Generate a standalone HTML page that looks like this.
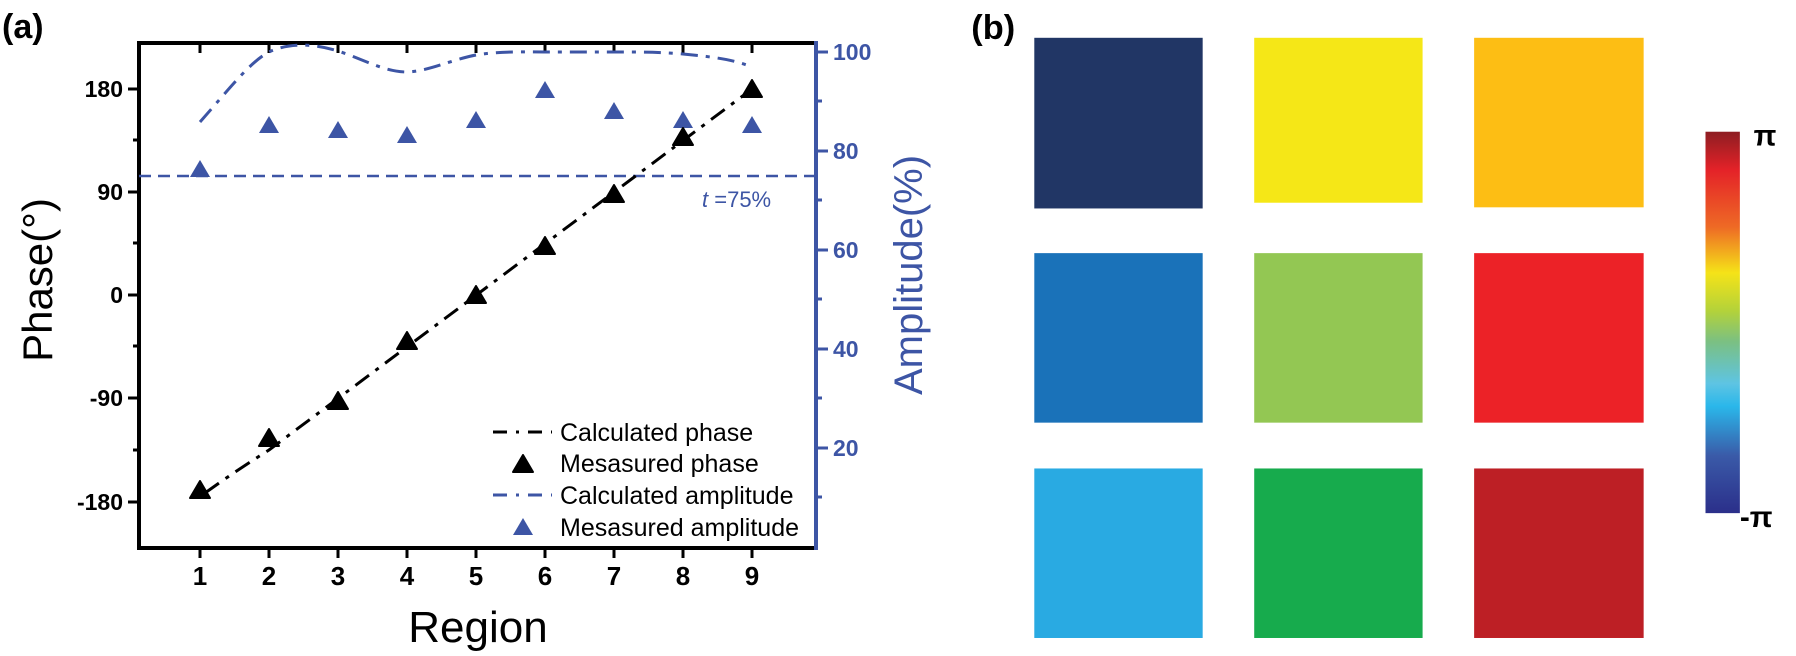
<!DOCTYPE html>
<html><head><meta charset="utf-8"><style>
body{margin:0;background:#fff;}
svg{display:block;}
text{font-family:"Liberation Sans",sans-serif;}
</style></head><body>
<svg width="1796" height="656" viewBox="0 0 1796 656" xmlns="http://www.w3.org/2000/svg">
<defs>
<linearGradient id="cb" x1="0" y1="0" x2="0" y2="1">
<stop offset="0" stop-color="#8e1d22"/>
<stop offset="0.1" stop-color="#e42228"/>
<stop offset="0.25" stop-color="#ee6a25"/>
<stop offset="0.37" stop-color="#f5e318"/>
<stop offset="0.47" stop-color="#b3d23a"/>
<stop offset="0.55" stop-color="#7bc082"/>
<stop offset="0.66" stop-color="#5ec4e3"/>
<stop offset="0.72" stop-color="#2ab7ea"/>
<stop offset="0.85" stop-color="#3a5aa8"/>
<stop offset="1" stop-color="#2b2f8a"/>
</linearGradient>
</defs>
<text x="2" y="38" font-size="34" font-weight="bold">(a)</text>
<!-- frame -->
<line x1="139" y1="43" x2="816" y2="43" stroke="#000" stroke-width="4"/>
<line x1="139" y1="41" x2="139" y2="550" stroke="#000" stroke-width="4"/>
<line x1="137" y1="548" x2="816" y2="548" stroke="#000" stroke-width="4"/>
<line x1="816" y1="41" x2="816" y2="550" stroke="#3d55a5" stroke-width="4"/>
<!-- left ticks (outward) -->
<g stroke="#000" stroke-width="3">
<line x1="128" y1="89" x2="139" y2="89"/><line x1="128" y1="192" x2="139" y2="192"/>
<line x1="128" y1="295" x2="139" y2="295"/><line x1="128" y1="398" x2="139" y2="398"/>
<line x1="128" y1="502" x2="139" y2="502"/>
<line x1="133" y1="140" x2="139" y2="140"/><line x1="133" y1="243" x2="139" y2="243"/>
<line x1="133" y1="346" x2="139" y2="346"/><line x1="133" y1="450" x2="139" y2="450"/>
</g>
<g font-size="23" font-weight="bold" text-anchor="end">
<text x="123" y="97">180</text><text x="123" y="200">90</text><text x="123" y="303">0</text>
<text x="123" y="406">-90</text><text x="123" y="510">-180</text>
</g>
<!-- x ticks -->
<g stroke="#000" stroke-width="3">
<line x1="200" y1="548" x2="200" y2="558"/><line x1="269" y1="548" x2="269" y2="558"/>
<line x1="338" y1="548" x2="338" y2="558"/><line x1="407" y1="548" x2="407" y2="558"/>
<line x1="476" y1="548" x2="476" y2="558"/><line x1="545" y1="548" x2="545" y2="558"/>
<line x1="614" y1="548" x2="614" y2="558"/><line x1="683" y1="548" x2="683" y2="558"/>
<line x1="752" y1="548" x2="752" y2="558"/>
<line x1="200" y1="43" x2="200" y2="53"/><line x1="269" y1="43" x2="269" y2="53"/>
<line x1="338" y1="43" x2="338" y2="53"/><line x1="407" y1="43" x2="407" y2="53"/>
<line x1="476" y1="43" x2="476" y2="53"/><line x1="545" y1="43" x2="545" y2="53"/>
<line x1="614" y1="43" x2="614" y2="53"/><line x1="683" y1="43" x2="683" y2="53"/>
<line x1="752" y1="43" x2="752" y2="53"/>
</g>
<g font-size="26" font-weight="bold" text-anchor="middle">
<text x="200" y="585">1</text><text x="269" y="585">2</text><text x="338" y="585">3</text>
<text x="407" y="585">4</text><text x="476" y="585">5</text><text x="545" y="585">6</text>
<text x="614" y="585">7</text><text x="683" y="585">8</text><text x="752" y="585">9</text>
</g>
<!-- right ticks -->
<g stroke="#3d55a5" stroke-width="3">
<line x1="816" y1="52" x2="828" y2="52"/><line x1="816" y1="151" x2="828" y2="151"/>
<line x1="816" y1="250" x2="828" y2="250"/><line x1="816" y1="349" x2="828" y2="349"/>
<line x1="816" y1="448" x2="828" y2="448"/>
<line x1="816" y1="101" x2="822" y2="101"/><line x1="816" y1="200" x2="822" y2="200"/>
<line x1="816" y1="299" x2="822" y2="299"/><line x1="816" y1="398" x2="822" y2="398"/>
<line x1="816" y1="497" x2="822" y2="497"/>
</g>
<g font-size="23" font-weight="bold" fill="#3d55a5" text-anchor="start">
<text x="833" y="60">100</text><text x="833" y="159">80</text><text x="833" y="258">60</text>
<text x="833" y="357">40</text><text x="833" y="456">20</text>
</g>
<text transform="translate(922,275) rotate(-90)" font-size="40" fill="#3d55a5" text-anchor="middle">Amplitude(%)</text>
<text transform="translate(52,280) rotate(-90)" font-size="42" text-anchor="middle">Phase(°)</text>
<text x="478" y="642" font-size="44" text-anchor="middle">Region</text>
<!-- 75% line -->
<line x1="139" y1="176" x2="816" y2="176" stroke="#3d55a5" stroke-width="2.5" stroke-dasharray="12,7"/>
<text x="702" y="207" font-size="22" fill="#3d55a5"><tspan font-style="italic">t</tspan> =75%</text>
<!-- calculated amplitude -->
<path d="M200,122 C230,88 250,62 269,52 C290,42 315,44 338,51 C365,60 385,72 407,72 C430,71 450,60 476,55 C500,51 525,52 545,52 L614,52 C640,52 660,52 683,54 C715,57 735,60 752,67" fill="none" stroke="#3d55a5" stroke-width="3" stroke-dasharray="17,8,4,8"/>
<!-- calculated phase -->
<path d="M205,493 C230,475 250,462 269,450 L752,89" fill="none" stroke="#000" stroke-width="3" stroke-dasharray="17,8,4,8"/>
<!-- measured amplitude -->
<g fill="#3d55a5">
<path d="M200,160 l-10,17 h20z"/><path d="M269,116 l-10,17 h20z"/><path d="M338,121 l-10,17 h20z"/>
<path d="M407,126 l-10,17 h20z"/><path d="M476,111 l-10,17 h20z"/><path d="M545,81 l-10,17 h20z"/>
<path d="M614,102 l-10,17 h20z"/><path d="M683,111 l-10,17 h20z"/><path d="M752,116 l-10,17 h20z"/>
</g>
<!-- measured phase -->
<g fill="#000" stroke="#000" stroke-width="2" stroke-linejoin="round">
<path d="M200,481 l-10,17 h20z"/><path d="M269,429 l-10,17 h20z"/><path d="M338,392 l-10,17 h20z"/>
<path d="M407,332 l-10,17 h20z"/><path d="M476,286 l-10,17 h20z"/><path d="M545,237 l-10,17 h20z"/>
<path d="M614,185 l-10,17 h20z"/><path d="M683,128 l-10,17 h20z"/><path d="M752,80 l-10,17 h20z"/>
</g>
<!-- legend -->
<line x1="493" y1="432" x2="552" y2="432" stroke="#000" stroke-width="3" stroke-dasharray="14,9,3,9"/>
<path d="M523,455 l-10,17 h20z" fill="#000" stroke="#000" stroke-width="2" stroke-linejoin="round"/>
<line x1="493" y1="495" x2="552" y2="495" stroke="#3d55a5" stroke-width="3" stroke-dasharray="14,9,3,9"/>
<path d="M523,518 l-10,17 h20z" fill="#3d55a5"/>
<g font-size="25">
<text x="560" y="441">Calculated phase</text><text x="560" y="472">Mesasured phase</text>
<text x="560" y="504">Calculated amplitude</text><text x="560" y="536">Mesasured amplitude</text>
</g>
<!-- panel b -->
<g transform="scale(1.1454)">
<text x="848" y="34" font-size="30" font-weight="bold">(b)</text>
<rect x="903" y="33" width="147" height="149" fill="#213665"/>
<rect x="1095" y="33" width="147" height="144" fill="#f5e717"/>
<rect x="1287" y="33" width="148" height="148" fill="#fdbe14"/>
<rect x="903" y="221" width="147" height="148" fill="#1a72b9"/>
<rect x="1095" y="221" width="147" height="148" fill="#93c753"/>
<rect x="1287" y="221" width="148" height="148" fill="#ec2227"/>
<rect x="903" y="409" width="147" height="148" fill="#29aae2"/>
<rect x="1095" y="409" width="147" height="148" fill="#17ab4d"/>
<rect x="1287" y="409" width="148" height="148" fill="#bd1f25"/>
<rect x="1489" y="115" width="30" height="333" fill="url(#cb)"/>
<text x="1531" y="127" font-size="26" font-weight="bold" font-family="Liberation Serif,serif">π</text>
<text x="1519" y="460" font-size="26" font-weight="bold" font-family="Liberation Serif,serif">-π</text>
</g>
</svg>
</body></html>
